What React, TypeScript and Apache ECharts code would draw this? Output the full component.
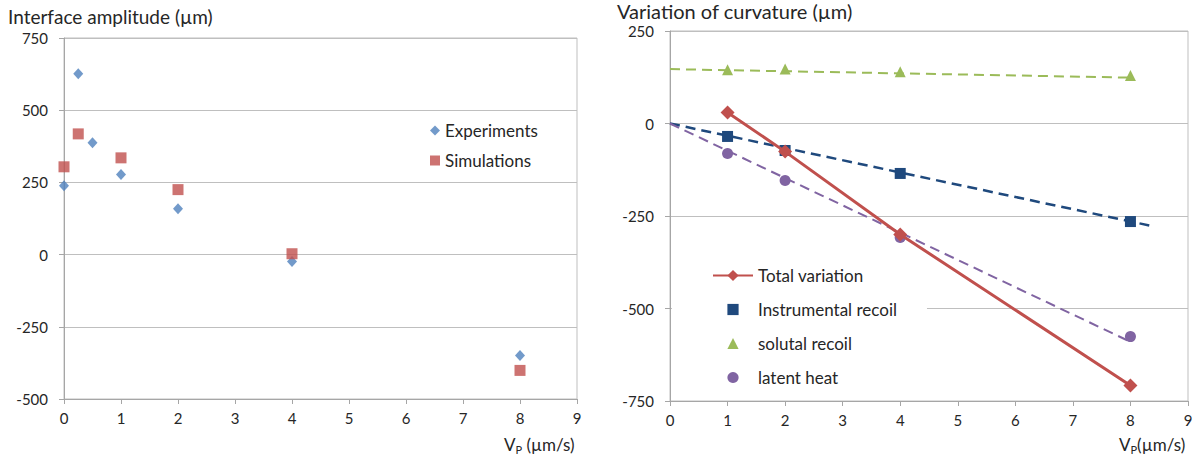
import React, { useEffect, useRef } from "react";
import * as echarts from "echarts";

const xTicks = [0, 1, 2, 3, 4, 5, 6, 7, 8, 9];
const leftYTicks = [-500, -250, 0, 250, 500, 750];
const rightYTicks = [-750, -500, -250, 0, 250];

const expX = [0, 0.25, 0.5, 1, 2, 4, 8];
const expY = [238, 626, 387, 277, 159, -24, -349];
const simX = [0, 0.25, 1, 2, 4, 8];
const simY = [304, 418, 335, 225, 3, -401];

const vpX = [1, 2, 4, 8];
const totalY = [30, -76, -300, -708];
const instrY = [-35, -73, -135, -265];
const solutalY = [145, 147, 140, 130];
const latentY = [-81, -154, -308, -576];

const instrTrendX = [0, 8.4];
const instrTrendY = [0, -278];
const solutalTrendX = [0, 8];
const solutalTrendY = [147, 124];
const latentTrendX = [0, 8];
const latentTrendY = [0, -590];

const zip = (xs: number[], ys: number[]) => xs.map((x, i) => [x, ys[i]]);

const FONT = "Lato, 'Open Sans', sans-serif";
const GRID_COL = "#BFBFBF";
const AXIS_COL = "#A6A6A6";
const TXT = "#262626";

export default function App() {
  const ref = useRef<HTMLDivElement>(null);
  useEffect(() => {
    document.body.style.margin = "0";
    const chart = echarts.init(ref.current!, null, { renderer: "svg" });
    const xAxisBase = (gridIndex: number) => ({
      type: "value",
      gridIndex,
      min: xTicks[0],
      max: xTicks[xTicks.length - 1],
      interval: 1,
      axisLine: { show: true, onZero: false, lineStyle: { color: AXIS_COL } },
      axisTick: { show: true, length: 5, lineStyle: { color: AXIS_COL } },
      axisLabel: { color: TXT, fontSize: 15, fontFamily: FONT, margin: 11 },
      splitLine: { show: false },
    });
    const yAxisBase = (gridIndex: number, ticks: number[]) => ({
      type: "value",
      gridIndex,
      min: ticks[0],
      max: ticks[ticks.length - 1],
      interval: 250,
      axisLine: { show: true, onZero: false, lineStyle: { color: AXIS_COL } },
      axisTick: { show: true, length: 5, lineStyle: { color: AXIS_COL } },
      axisLabel: { color: TXT, fontSize: 15, fontFamily: FONT, margin: 16 },
      splitLine: { show: true, lineStyle: { color: GRID_COL, width: 1 } },
    });
    const pointSeries = (name: string, symbol: string, size: number, color: string, data: number[][]) => ({
      name,
      type: "line",
      xAxisIndex: 1,
      yAxisIndex: 1,
      symbol,
      symbolSize: size,
      showAllSymbol: true,
      lineStyle: { width: 0, opacity: 0 },
      itemStyle: { color },
      data,
      z: 3,
    });
    const trendSeries = (name: string, color: string, width: number, data: number[][]) => ({
      name,
      type: "line",
      xAxisIndex: 1,
      yAxisIndex: 1,
      showSymbol: false,
      symbol: "none",
      lineStyle: { color, width, type: [10, 6] },
      data,
      z: 1,
    });
    chart.setOption({
      animation: false,
      backgroundColor: "#fff",
      title: [
        {
          text: "Interface amplitude (µm)",
          left: 3,
          top: 2,
          textStyle: { fontSize: 19, fontWeight: "normal", color: TXT, fontFamily: FONT },
        },
        {
          text: "Variation of curvature (µm)",
          left: 612,
          top: -4,
          textStyle: { fontSize: 20, fontWeight: "normal", color: TXT, fontFamily: FONT },
        },
      ],
      grid: [
        { left: 64, right: 623, top: 38, bottom: 72, show: true, borderColor: GRID_COL, borderWidth: 1 },
        { left: 670, right: 12, top: 31, bottom: 70, show: true, borderColor: GRID_COL, borderWidth: 1 },
      ],
      xAxis: [xAxisBase(0), xAxisBase(1)],
      yAxis: [yAxisBase(0, leftYTicks), yAxisBase(1, rightYTicks)],
      legend: [
        {
          data: ["Experiments", "Simulations"],
          orient: "vertical",
          left: 425,
          top: 117,
          itemWidth: 10,
          itemHeight: 10,
          itemGap: 13,
          textStyle: { fontSize: 17, color: TXT, fontFamily: FONT },
        },
        {
          data: ["Total variation", "Instrumental recoil", "solutal recoil", "latent heat"],
          orient: "vertical",
          left: 672,
          top: 257,
          padding: [10, 30, 10, 40],
          itemWidth: 40,
          itemHeight: 14,
          itemGap: 17,
          backgroundColor: "#fff",
          textStyle: { fontSize: 17, color: TXT, fontFamily: FONT },
        },
      ],
      series: [
        {
          name: "Experiments",
          type: "scatter",
          xAxisIndex: 0,
          yAxisIndex: 0,
          symbol: "diamond",
          symbolSize: [10, 11],
          itemStyle: { color: "#4F81BD" },
          data: zip(expX, expY),
        },
        {
          name: "Simulations",
          type: "scatter",
          xAxisIndex: 0,
          yAxisIndex: 0,
          symbol: "rect",
          symbolSize: 11,
          itemStyle: { color: "#C0504D" },
          data: zip(simX, simY),
        },
        trendSeries("solutal trend", "#9BBB59", 2, zip(solutalTrendX, solutalTrendY)),
        trendSeries("instr trend", "#1F497D", 2.5, zip(instrTrendX, instrTrendY)),
        trendSeries("latent trend", "#8064A2", 2, zip(latentTrendX, latentTrendY)),
        pointSeries("Instrumental recoil", "rect", 11, "#1F497D", zip(vpX, instrY)),
        pointSeries("solutal recoil", "triangle", 11, "#9BBB59", zip(vpX, solutalY)),
        pointSeries("latent heat", "circle", 11, "#8064A2", zip(vpX, latentY)),
        {
          name: "Total variation",
          type: "line",
          xAxisIndex: 1,
          yAxisIndex: 1,
          symbol: "diamond",
          symbolSize: 14,
          lineStyle: { color: "#C0504D", width: 3 },
          itemStyle: { color: "#C0504D" },
          data: zip(vpX, totalY),
          z: 4,
        },
      ],
      graphic: [
        {
          type: "text",
          left: 504,
          top: 436,
          style: {
            text: "{a|V}{b|P}{a| (µm/s)}",
            rich: {
              a: { fontSize: 17, fontFamily: FONT, fill: TXT },
              b: { fontSize: 11, fontFamily: FONT, fill: TXT, padding: [9, 0, 0, 0] },
            },
          },
        },
        {
          type: "text",
          left: 1119,
          top: 436,
          style: {
            text: "{a|V}{b|P}{a|(µm/s)}",
            rich: {
              a: { fontSize: 17, fontFamily: FONT, fill: TXT },
              b: { fontSize: 11, fontFamily: FONT, fill: TXT, padding: [9, 0, 0, 0] },
            },
          },
        },
      ],
    });
    return () => chart.dispose();
  }, []);
  return <div ref={ref} style={{ width: 1200, height: 471 }} />;
}
